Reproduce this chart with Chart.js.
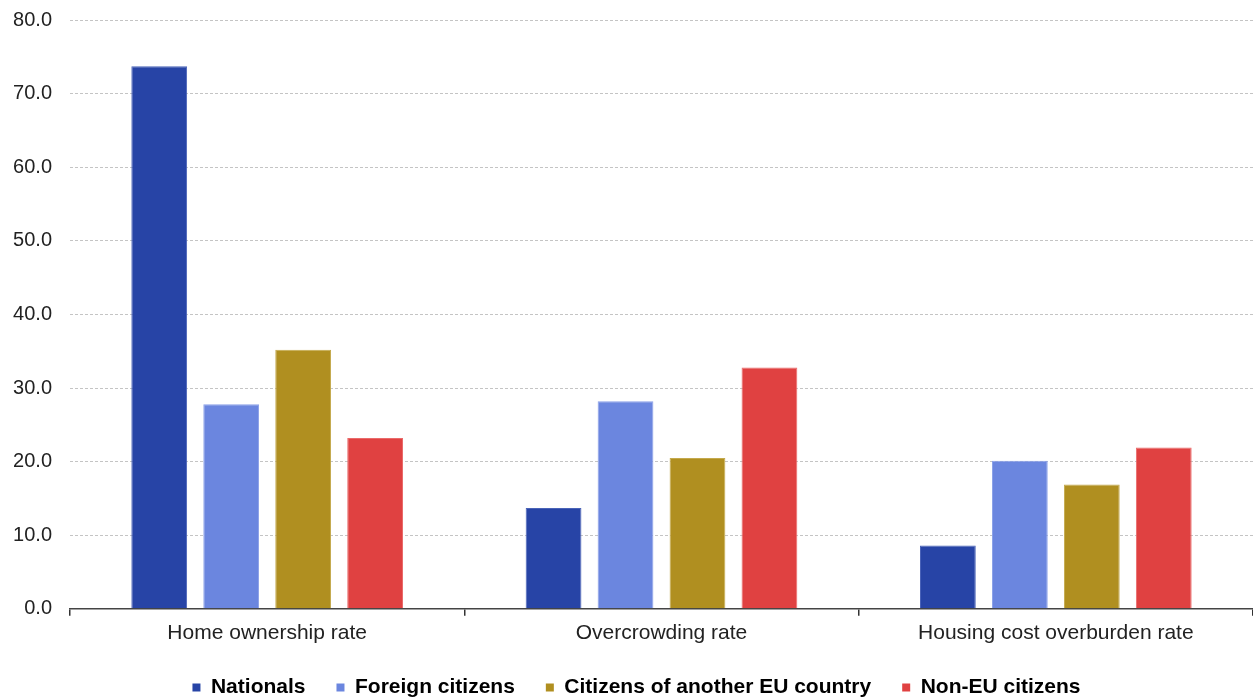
<!DOCTYPE html>
<html>
<head>
<meta charset="utf-8">
<script src="https://cdn.jsdelivr.net/npm/chart.js@4/dist/chart.umd.min.js"></script>
<style>
  html, body { margin: 0; padding: 0; background: #ffffff; }
  #wrap { position: relative; width: 1253px; height: 698px; }
</style>
</head>
<body>
<div id="wrap"><canvas id="chart"></canvas></div>
<script>
// Housing indicators by citizenship (%)
const categories = ['Home ownership rate', 'Overcrowding rate', 'Housing cost overburden rate'];
const seriesNames = ['Nationals', 'Foreign citizens', 'Citizens of another EU country', 'Non-EU citizens'];
const nationals = [73.7, 13.7, 8.6];
const foreignCitizens = [27.8, 28.2, 20.1];
const otherEuCitizens = [35.2, 20.5, 16.9];
const nonEuCitizens = [23.2, 32.8, 21.9];
const yTicks = [0, 10, 20, 30, 40, 50, 60, 70, 80];

const colours = ['#2744a6', '#6b86df', '#b08f20', '#e04141'];
const edges = ['#4a63b8', '#8aa0e8', '#c4a94c', '#ea6a6a'];
const values = [nationals, foreignCitizens, otherEuCitizens, nonEuCitizens];

const font = "'Liberation Sans', Arial, sans-serif";

// Legend: a shorter box (item spacing stays wide), row drawn a little
// higher and slightly right of the canvas centre.
const legendPlacement = {
  id: 'legendPlacement',
  afterInit(chart) {
    const legend = chart.legend;
    if (!legend) return;
    const fit = legend.fit.bind(legend);
    legend.fit = function () {
      fit();
      this.height -= 7;
    };
    const draw = legend.draw.bind(legend);
    legend.draw = function () {
      const dx = 10, dy = -5;
      this.left += dx; this.right += dx; this.top += dy; this.bottom += dy;
      draw();
      this.left -= dx; this.right -= dx; this.top -= dy; this.bottom -= dy;
    };
  }
};

new Chart(document.getElementById('chart'), {
  type: 'bar',
  data: {
    labels: categories,
    datasets: seriesNames.map((name, i) => ({
      label: name,
      data: values[i],
      backgroundColor: colours[i],
      borderColor: edges[i],
      borderWidth: 1,
      categoryPercentage: 0.73,
      barPercentage: 0.775
    }))
  },
  plugins: [legendPlacement],
  options: {
    responsive: true,
    maintainAspectRatio: false,
    animation: false,
    layout: { padding: { top: 0, right: 0, left: 0, bottom: -8 } },
    plugins: {
      tooltip: { enabled: false },
      legend: {
        position: 'bottom',
        labels: {
          font: { family: font, size: 21, weight: 'bold' },
          color: '#111111',
          boxWidth: 8,
          boxHeight: 8,
          padding: 31,
          generateLabels: (chart) => chart.data.datasets.map((ds, i) => ({
            text: ds.label,
            fillStyle: ds.backgroundColor,
            strokeStyle: ds.backgroundColor,
            lineWidth: 0,
            datasetIndex: i,
            hidden: false
          }))
        }
      }
    },
    scales: {
      x: {
        grid: {
          offset: true,
          drawOnChartArea: false,
          drawTicks: true,
          tickLength: 7,
          color: '#333333',
          lineWidth: 1.5
        },
        border: { display: true, color: '#444444', width: 1.5 },
        ticks: {
          font: { family: font, size: 21 },
          color: '#222222',
          padding: 5
        }
      },
      y: {
        min: 0,
        max: 80,
        afterBuildTicks: (axis) => { axis.ticks = yTicks.map(v => ({ value: v })); },
        afterFit: (axis) => {
          axis.width = 70;
          axis.paddingTop = 20;
          axis.paddingBottom = 10;
        },
        grid: { color: '#c4c4c4', lineWidth: 1, drawTicks: false },
        border: { display: false, dash: [3, 2] },
        ticks: {
          font: { family: font, size: 20 },
          color: '#222222',
          padding: 18,
          callback: (v) => Number(v).toFixed(1)
        }
      }
    }
  }
});
</script>
</body>
</html>
